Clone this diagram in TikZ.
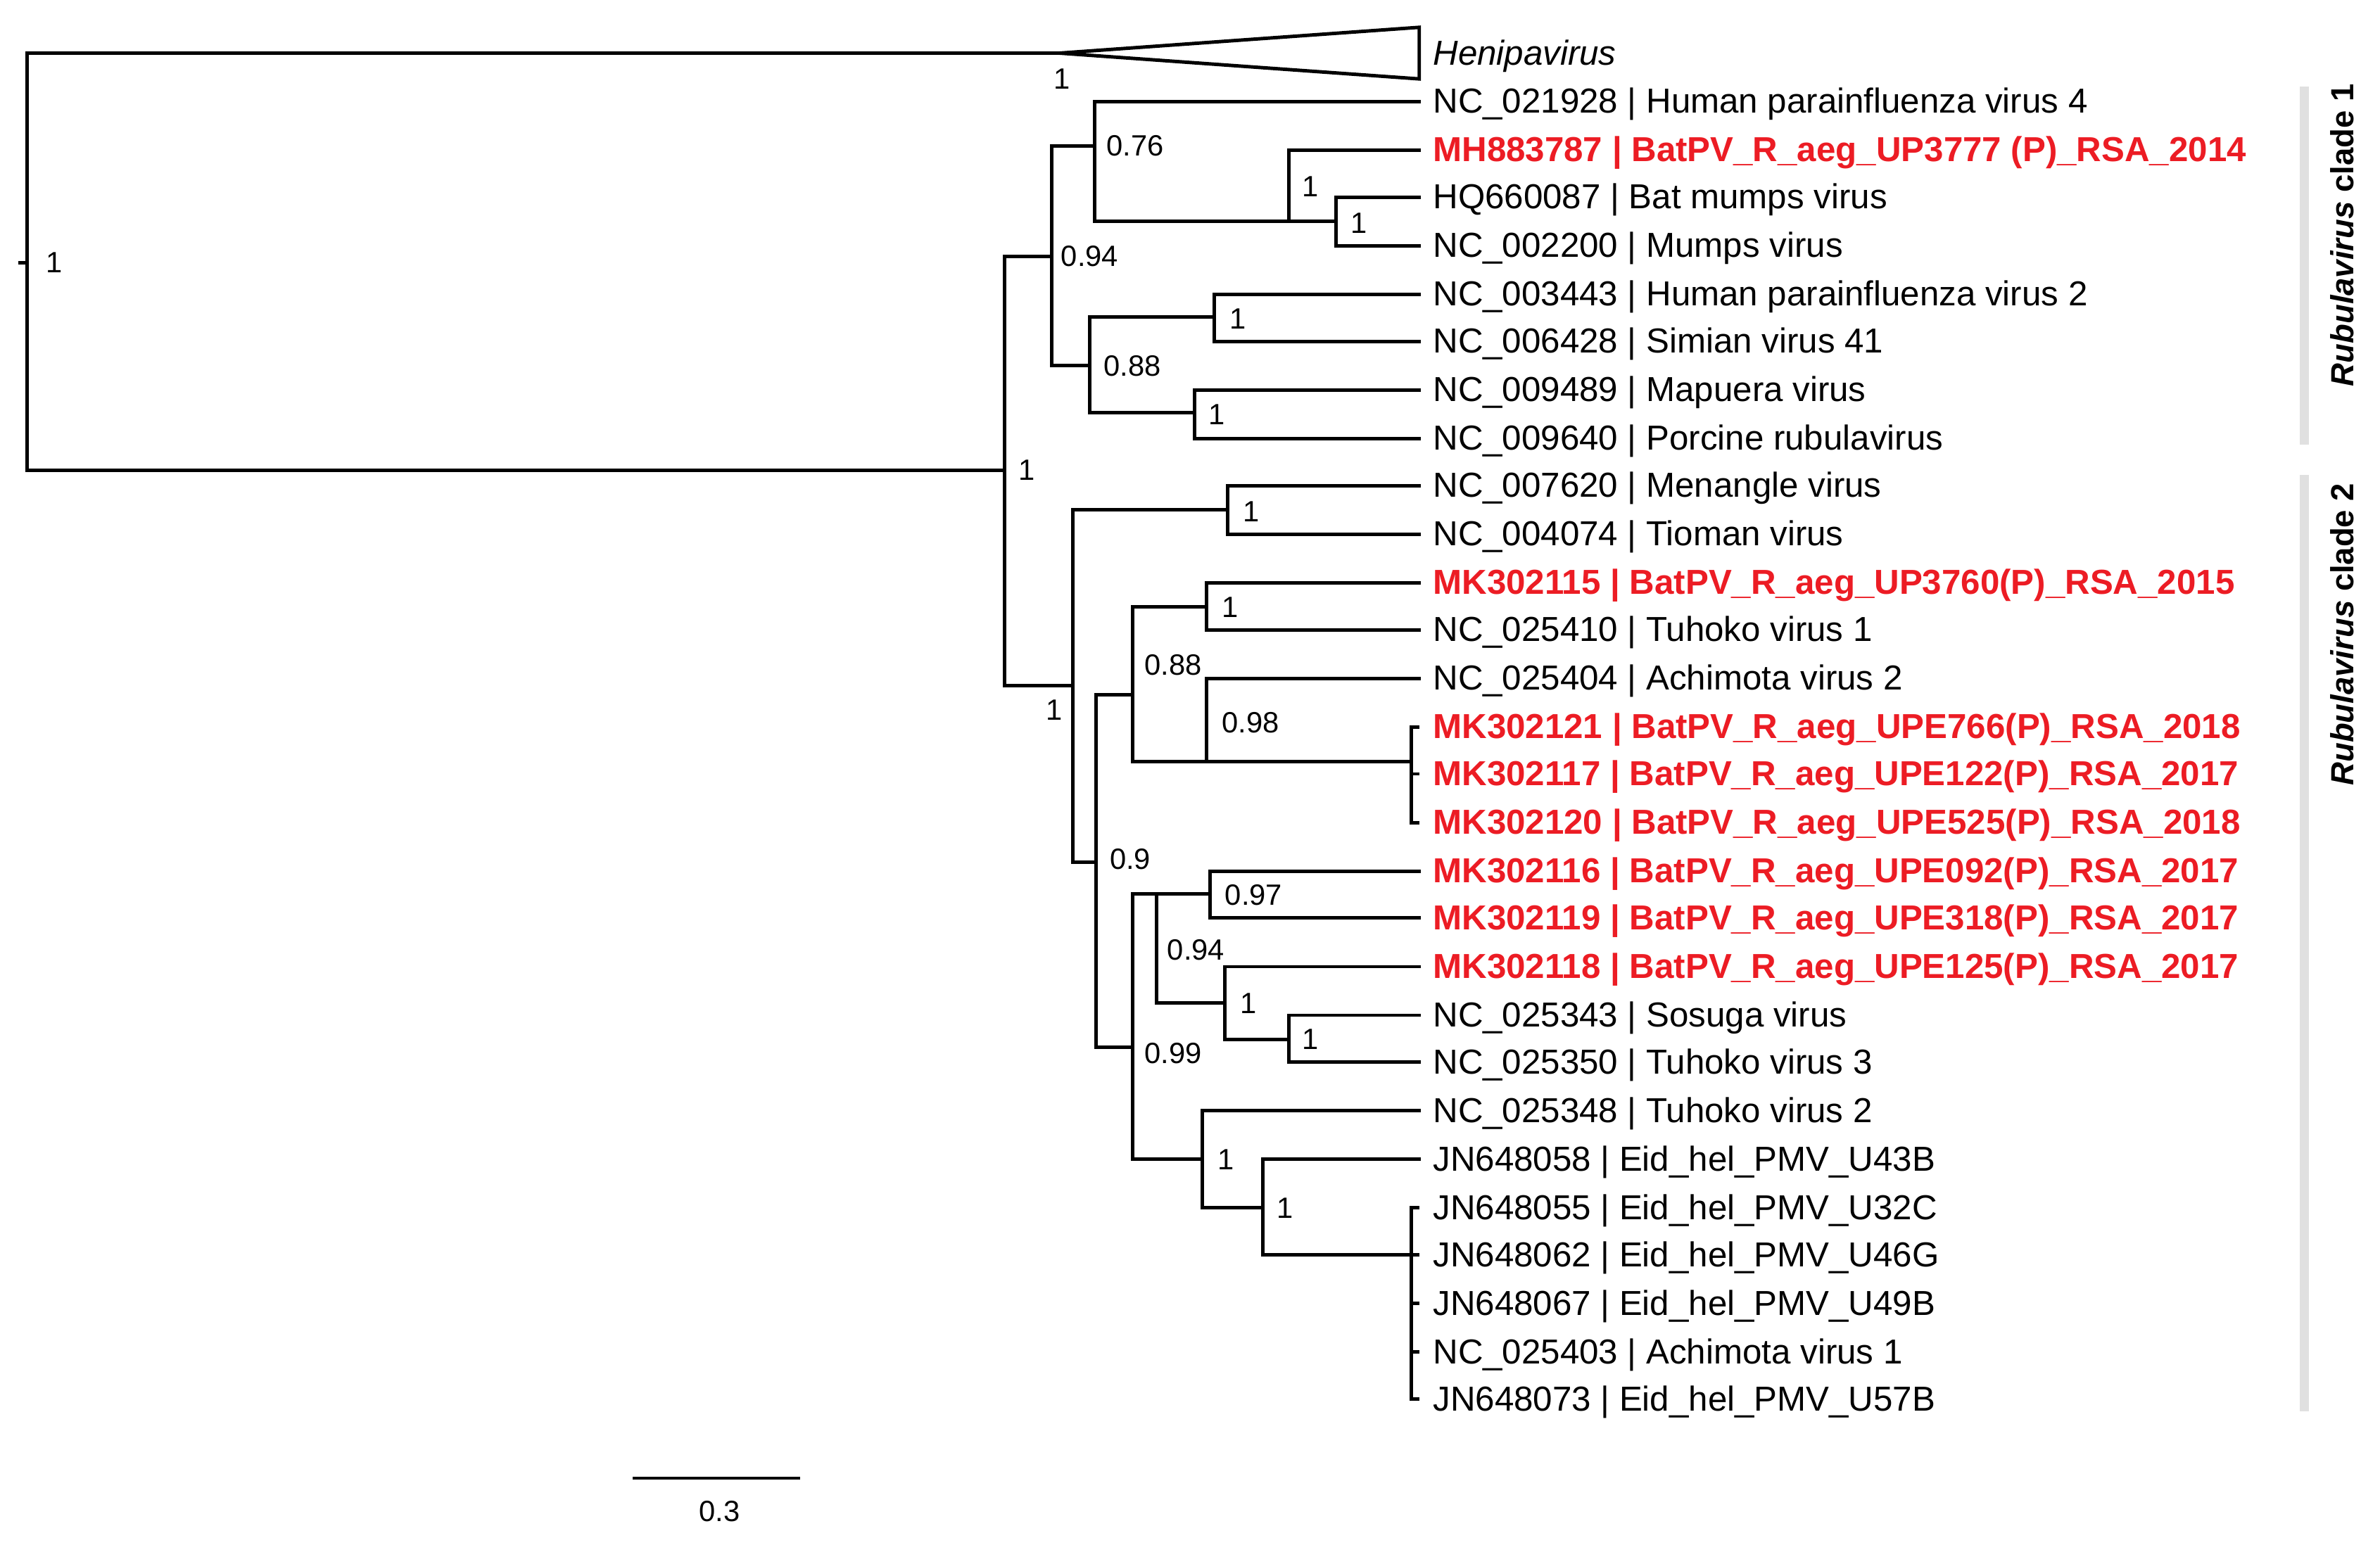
\documentclass[tikz,border=0pt]{standalone}
\usepackage{fontspec}
\setmainfont{Liberation Sans}
\definecolor{red}{RGB}{236,28,36}
\begin{document}
\begin{tikzpicture}[x=0.02cm,y=-0.02cm,line width=1.3pt,
  leaf/.style={anchor=west,inner sep=0pt,yshift=-1pt,font=\fontsize{13}{15}\selectfont},
  rleaf/.style={leaf,text=red,font=\fontsize{13}{15}\selectfont\bfseries},
  sup/.style={anchor=west,inner sep=0pt,font=\fontsize{11}{13}\selectfont},
  br/.style={line cap=rect}]
\useasboundingbox (0,0) rectangle (1568,1018);
% root
\draw[br] (698,35) -- (18,35) -- (18,310) -- (662,310);
\draw (12,173) -- (18,173);
\node[sup] at (29,173) {1};
\draw (698,35) -- (935,18) -- (935,52) -- cycle;
\node[sup] at (693,52) {1};
\node[leaf,font=\fontsize{13}{15}\selectfont\itshape] at (943,35) {Henipavirus};
% clade split
\draw[br] (693,169) -- (662,169) -- (662,452) -- (707,452);
\node[sup] at (670,310) {1};
% clade 1
\draw[br] (721,96) -- (693,96) -- (693,241) -- (718,241);
\node[sup] at (698,169) {0.94};
\draw[br] (935,67) -- (721,67) -- (721,146) -- (880,146);
\node[sup] at (728,96) {0.76};
\draw[br] (935,99) -- (849,99) -- (849,146);
\node[sup] at (857,123) {1};
\draw[br] (935,130) -- (880,130) -- (880,162) -- (935,162);
\node[sup] at (889,147) {1};
\draw[br] (800,209) -- (718,209) -- (718,272) -- (787,272);
\node[sup] at (726,241) {0.88};
\draw[br] (935,194) -- (800,194) -- (800,225) -- (935,225);
\node[sup] at (809,210) {1};
\draw[br] (935,257) -- (787,257) -- (787,289) -- (935,289);
\node[sup] at (795,273) {1};
% clade 2
\draw[br] (809,336) -- (707,336) -- (707,568) -- (722,568);
\node[sup] at (688,468) {1};
\draw[br] (935,320) -- (809,320) -- (809,352) -- (935,352);
\node[sup] at (818,337) {1};
\draw[br] (746,458) -- (722,458) -- (722,690) -- (746,690);
\node[sup] at (730,566) {0.9};
\draw[br] (795,400) -- (746,400) -- (746,502) -- (795,502);
\node[sup] at (753,438) {0.88};
\draw[br] (935,384) -- (795,384) -- (795,415) -- (935,415);
\node[sup] at (804,400) {1};
\draw[br] (935,447) -- (795,447) -- (795,502) -- (930,502);
\node[sup] at (804,476) {0.98};
\draw (935,479) -- (930,479) -- (930,542) -- (935,542);
\draw (930,510) -- (935,510);
\draw[br] (762,589) -- (746,589) -- (746,764) -- (792,764);
\node[sup] at (753,694) {0.99};
\draw[br] (797,589) -- (762,589) -- (762,661) -- (807,661);
\node[sup] at (768,626) {0.94};
\draw[br] (935,574) -- (797,574) -- (797,605) -- (935,605);
\node[sup] at (806,590) {0.97};
\draw[br] (935,637) -- (807,637) -- (807,685) -- (849,685);
\node[sup] at (816,661) {1};
\draw[br] (935,669) -- (849,669) -- (849,700) -- (935,700);
\node[sup] at (857,685) {1};
\draw[br] (935,732) -- (792,732) -- (792,796) -- (832,796);
\node[sup] at (801,764) {1};
\draw[br] (935,764) -- (832,764) -- (832,827) -- (930,827);
\node[sup] at (840,796) {1};
\draw (935,796) -- (930,796) -- (930,922) -- (935,922);
\foreach \y in {827,859,891} \draw (930,\y) -- (935,\y);
% leaves
\node[leaf] at (943,67) {NC\_021928 | Human parainfluenza virus 4};
\node[rleaf] at (943,99) {MH883787 | BatPV\_R\_aeg\_UP3777 (P)\_RSA\_2014};
\node[leaf] at (943,130) {HQ660087 | Bat mumps virus};
\node[leaf] at (943,162) {NC\_002200 | Mumps virus};
\node[leaf] at (943,194) {NC\_003443 | Human parainfluenza virus 2};
\node[leaf] at (943,225) {NC\_006428 | Simian virus 41};
\node[leaf] at (943,257) {NC\_009489 | Mapuera virus};
\node[leaf] at (943,289) {NC\_009640 | Porcine rubulavirus};
\node[leaf] at (943,320) {NC\_007620 | Menangle virus};
\node[leaf] at (943,352) {NC\_004074 | Tioman virus};
\node[rleaf] at (943,384) {MK302115 | BatPV\_R\_aeg\_UP3760(P)\_RSA\_2015};
\node[leaf] at (943,415) {NC\_025410 | Tuhoko virus 1};
\node[leaf] at (943,447) {NC\_025404 | Achimota virus 2};
\node[rleaf] at (943,479) {MK302121 | BatPV\_R\_aeg\_UPE766(P)\_RSA\_2018};
\node[rleaf] at (943,510) {MK302117 | BatPV\_R\_aeg\_UPE122(P)\_RSA\_2017};
\node[rleaf] at (943,542) {MK302120 | BatPV\_R\_aeg\_UPE525(P)\_RSA\_2018};
\node[rleaf] at (943,574) {MK302116 | BatPV\_R\_aeg\_UPE092(P)\_RSA\_2017};
\node[rleaf] at (943,605) {MK302119 | BatPV\_R\_aeg\_UPE318(P)\_RSA\_2017};
\node[rleaf] at (943,637) {MK302118 | BatPV\_R\_aeg\_UPE125(P)\_RSA\_2017};
\node[leaf] at (943,669) {NC\_025343 | Sosuga virus};
\node[leaf] at (943,700) {NC\_025350 | Tuhoko virus 3};
\node[leaf] at (943,732) {NC\_025348 | Tuhoko virus 2};
\node[leaf] at (943,764) {JN648058 | Eid\_hel\_PMV\_U43B};
\node[leaf] at (943,796) {JN648055 | Eid\_hel\_PMV\_U32C};
\node[leaf] at (943,827) {JN648062 | Eid\_hel\_PMV\_U46G};
\node[leaf] at (943,859) {JN648067 | Eid\_hel\_PMV\_U49B};
\node[leaf] at (943,891) {NC\_025403 | Achimota virus 1};
\node[leaf] at (943,922) {JN648073 | Eid\_hel\_PMV\_U57B};
% clade bars
\draw[line width=3.5pt,black!12] (1518,57) -- (1518,293);
\draw[line width=3.5pt,black!12] (1518,313) -- (1518,930);
\node[rotate=90,inner sep=0pt,font=\fontsize{12}{14}\selectfont\bfseries] at (1543,155) {\textit{Rubulavirus} clade 1};
\node[rotate=90,inner sep=0pt,font=\fontsize{12}{14}\selectfont\bfseries] at (1543,418) {\textit{Rubulavirus} clade 2};
% scale
\draw[line width=1pt] (417,974) -- (527,974);
\node[sup,anchor=center] at (474,996) {0.3};
\end{tikzpicture}
\end{document}
